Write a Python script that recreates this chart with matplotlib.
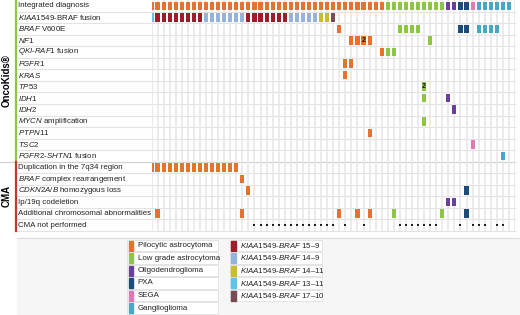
import matplotlib.pyplot as plt
from matplotlib.patches import Rectangle

plt.rcParams['font.family'] = ['Liberation Sans', 'DejaVu Sans']
plt.rcParams['mathtext.fontset'] = 'custom'
plt.rcParams['mathtext.rm'] = 'Liberation Sans'
plt.rcParams['mathtext.it'] = 'Liberation Sans:italic'
plt.rcParams['mathtext.bf'] = 'Liberation Sans:bold'

# ---- data ----
n_cases = 60

diag_names = ["Pilocytic astrocytoma", "Low grade astrocytoma", "Oligodendroglioma",
              "PXA", "SEGA", "Ganglioglioma"]
diag_colors = ["#E8712B", "#8DC63F", "#6A3F9E", "#1B4C7A", "#E279B2", "#47A7C5"]
diag_counts = [39, 10, 2, 2, 1, 6]

fusion_names = ["15–9", "14–9", "14–11", "13–11", "17–10"]
fusion_colors = ["#9C1E2D", "#95B4DB", "#C8BD2F", "#5EC4E9", "#7B4A57"]
# runs of fusion types along the first cases
fusion_runs = [("13–11", 1), ("15–9", 8), ("14–9", 7), ("15–9", 7),
               ("14–9", 5), ("14–11", 2), ("17–10", 1)]

row_labels = [
    "Integrated diagnosis",
    r"$\mathit{KIAA1549}$-BRAF fusion",
    r"$\mathit{BRAF}$ V600E",
    r"$\mathit{NF1}$",
    r"$\mathit{QKI}$-$\mathit{RAF1}$ fusion",
    r"$\mathit{FGFR1}$",
    r"$\mathit{KRAS}$",
    r"$\mathit{TP53}$",
    r"$\mathit{IDH1}$",
    r"$\mathit{IDH2}$",
    r"$\mathit{MYCN}$ amplification",
    r"$\mathit{PTPN11}$",
    r"$\mathit{TSC2}$",
    r"$\mathit{FGFR2}$-$\mathit{SHTN1}$ fusion",
    "Duplication in the 7q34 region",
    r"$\mathit{BRAF}$ complex rearrangement",
    r"$\mathit{CDKN2A/B}$ homozygous loss",
    "Ip/19q codeletion",
    "Additional chromosomal abnormalities",
    "CMA not performed",
]

# case indices with an alteration, per row (rows 2..18)
hits = {
    2: [31, 41, 42, 43, 44, 51, 52, 54, 55, 56, 57],
    3: [33, 34, 35, 36, 46],
    4: [38, 39, 40],
    5: [32, 33],
    6: [32],
    7: [45],
    8: [45, 49],
    9: [50],
    10: [45],
    11: [36],
    12: [53],
    13: [58],
    14: [0, 1, 2, 3, 4, 5, 6, 7, 8, 9, 10, 11, 12, 13, 14],
    15: [15],
    16: [16, 52],
    17: [49, 50],
    18: [1, 15, 31, 34, 36, 40, 48, 52],
}
double_hits = [(3, 35), (7, 45)]
cma_not_done = [17, 18, 19, 20, 21, 22, 23, 24, 25, 26, 27, 28, 29, 30,
                32, 35, 41, 42, 43, 44, 45, 46, 47, 51, 53, 54, 55, 57, 58]

# ---- build per-case colours ----
case_diag = []
for name, cnt in zip(diag_names, diag_counts):
    case_diag += [name] * cnt
diag_col = dict(zip(diag_names, diag_colors))
fus_col = dict(zip(fusion_names, fusion_colors))
case_fusion = []
for name, cnt in fusion_runs:
    case_fusion += [name] * cnt

W, H = 520, 315
fig = plt.figure(figsize=(W / 100, H / 100), dpi=100)
ov = fig.add_axes([0, 0, 1, 1])
ov.set_xlim(0, W)
ov.set_ylim(H, 0)
ov.axis('off')

gx0, gx1, gy1 = 151.5, 515, 231
n_rows = len(row_labels)
rh = gy1 / n_rows
ax = fig.add_axes([gx0 / W, 1 - gy1 / H, (gx1 - gx0) / W, gy1 / H])
ax.set_xlim(0, n_cases)
ax.set_ylim(n_rows, 0)
ax.axis('off')

# grid
for x in range(n_cases + 1):
    ax.axvline(x, color='#e6e6e6', lw=1.1, zorder=0)
for r in range(1, n_rows + 1):
    ov.plot([17, gx1], [r * rh, r * rh], color='#e3e3e3', lw=0.8, zorder=0)
ov.plot([0, gx1], [14 * rh, 14 * rh], color='#d0d0d0', lw=0.8, zorder=0)

# group bars and labels
ov.plot([16, 16], [0, 14 * rh], color='#8DC63F', lw=1.6)
ov.plot([16, 16], [14 * rh, gy1], color='#C0392B', lw=1.6)
ov.text(7, 7 * rh, "OncoKids®", rotation=90, ha='center', va='center',
        fontsize=7, fontweight='bold')
ov.text(7, 17 * rh, "CMA", rotation=90, ha='center', va='center',
        fontsize=7, fontweight='bold')

for r, lab in enumerate(row_labels):
    ov.text(18.5, (r + 0.5) * rh, lab, ha='left', va='center', fontsize=5.7,
            color='#222222')

bw, bh = 0.68, 0.74
# integrated diagnosis
ax.bar(range(n_cases), bh, bottom=0.5 - bh / 2, width=bw,
       color=[diag_col[d] for d in case_diag])
# fusion
ax.bar(range(len(case_fusion)), bh, bottom=1.5 - bh / 2, width=bw,
       color=[fus_col[f] for f in case_fusion])
# alterations coloured by diagnosis
for r, cases in hits.items():
    ax.bar(cases, bh, bottom=r + 0.5 - bh / 2, width=bw,
           color=[diag_col[case_diag[c]] for c in cases])
for r, c in double_hits:
    ax.text(c, r + 0.5, "2", ha='center', va='center', fontsize=5,
            fontweight='bold', color='#111111')
ax.scatter(cma_not_done, [19.5] * len(cma_not_done), s=1.2, marker='s',
           color='#222222', linewidths=0)

# legend panel
ov.add_patch(Rectangle((17, 238), W - 17, H - 238, color='#f6f6f6', zorder=0))
ov.plot([17, W], [238, 238], color='#dcdcdc', lw=0.8)
ly0, lp = 245.5, 12.5
for i, (name, col) in enumerate(zip(diag_names, diag_colors)):
    y = ly0 + i * lp
    ov.add_patch(Rectangle((127, y - 5.6), 91, 11.2, facecolor='white',
                           edgecolor='#e0e0e0', lw=0.6))
    ov.add_patch(Rectangle((128.5, y - 5), 4.5, 10, color=col))
    ov.text(137.5, y, name, ha='left', va='center', fontsize=5.7, color='#222222')
for i, (name, col) in enumerate(zip(fusion_names, fusion_colors)):
    y = ly0 + i * lp
    ov.add_patch(Rectangle((229.5, y - 5.6), 92, 11.2, facecolor='white',
                           edgecolor='#e0e0e0', lw=0.6))
    ov.add_patch(Rectangle((231, y - 5), 4.5, 10, color=col))
    ov.text(239.5, y, r"$\mathit{KIAA1549}$-$\mathit{BRAF}$ " + name, ha='left',
            va='center', fontsize=5.7, color='#222222')

fig.savefig('out.png', dpi=100)
